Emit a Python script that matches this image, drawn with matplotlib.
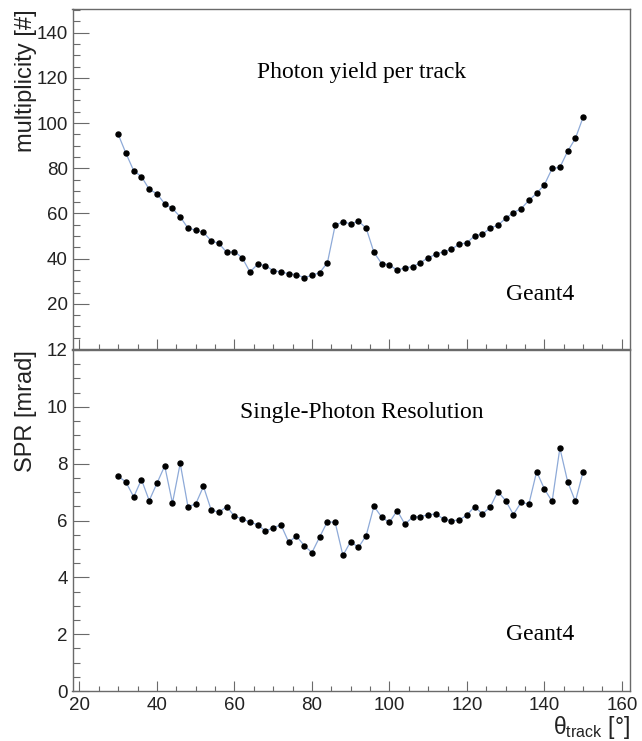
import numpy as np
import matplotlib
matplotlib.use('Agg')
import matplotlib.pyplot as plt
from matplotlib.ticker import MultipleLocator, FixedLocator, NullFormatter

plt.rcParams['font.family'] = ['Liberation Sans', 'DejaVu Sans']
plt.rcParams['mathtext.fontset'] = 'custom'
plt.rcParams['mathtext.rm'] = 'Liberation Sans'
plt.rcParams['mathtext.it'] = 'Liberation Sans'

# ---------------------------------------------------------------------------
# Data (theta_track in degrees, 30..150 step 2)
# ---------------------------------------------------------------------------
theta = np.arange(30, 151, 2)

multiplicity = [
    95.0, 86.6, 78.9, 76.3, 70.7, 68.7, 64.3, 62.2, 58.5, 53.5,
    52.6, 51.6, 47.9, 46.7, 42.8, 43.1, 40.4, 34.1, 37.5, 36.9,
    34.7, 34.1, 33.3, 32.9, 31.6, 32.6, 33.8, 38.2, 54.8, 56.3,
    55.4, 56.6, 53.5, 42.8, 37.8, 37.3, 34.8, 36.0, 36.4, 38.2,
    40.4, 41.9, 43.1, 44.1, 46.4, 47.0, 50.1, 50.8, 53.5, 54.8,
    57.8, 60.4, 62.1, 65.8, 68.9, 72.7, 79.9, 80.4, 87.5, 93.2,
    102.6,
]

spr = [
    7.56, 7.35, 6.83, 7.44, 6.70, 7.31, 7.92, 6.61, 8.01, 6.49,
    6.58, 7.20, 6.37, 6.29, 6.49, 6.15, 6.06, 5.94, 5.85, 5.63,
    5.74, 5.85, 5.24, 5.45, 5.12, 4.87, 5.42, 5.96, 5.93, 4.77,
    5.26, 5.05, 5.47, 6.50, 6.12, 5.93, 6.35, 5.87, 6.12, 6.14,
    6.20, 6.23, 6.05, 5.99, 6.02, 6.19, 6.49, 6.23, 6.47, 7.02,
    6.70, 6.21, 6.64, 6.58, 7.72, 7.11, 6.67, 8.55, 7.37, 6.67,
    7.72,
]

FRAME = '#6a6a6a'
LINE = '#8eaad8'
SERIF = ['Liberation Serif', 'DejaVu Serif']

fig = plt.figure(figsize=(6.42, 7.41), dpi=100)
W, H = 642.0, 741.0
ax_top = fig.add_axes([72.5 / W, (H - 349) / H, 557.5 / W, 340 / H])
ax_bot = fig.add_axes([72.5 / W, (H - 691) / H, 557.5 / W, 341 / H])


def style(ax):
    for s in ax.spines.values():
        s.set_color(FRAME)
        s.set_linewidth(1.0)
    ax.tick_params(which='both', direction='in', top=False, right=False,
                   color=FRAME, width=0.8, labelsize=13.5, labelcolor='#222222')
    ax.tick_params(axis='y', which='major', length=11.5, pad=3.5)
    ax.tick_params(axis='y', which='minor', length=5)
    ax.tick_params(axis='x', which='major', length=7.2, pad=4)
    ax.tick_params(axis='x', which='minor', length=3.6)
    ax.set_xlim(18.2, 162.1)
    ax.xaxis.set_major_locator(MultipleLocator(20))
    ax.xaxis.set_minor_locator(MultipleLocator(5))


# ---- top: photon yield ----------------------------------------------------
ax = ax_top
style(ax)
ax.plot(theta, multiplicity, '-', color=LINE, lw=0.9, zorder=2)
ax.plot(theta, multiplicity, 'o', color='black', ms=3.6, zorder=3)
ax.set_ylim(0, 150.5)
ax.yaxis.set_major_locator(FixedLocator(np.arange(20, 141, 20)))
ax.yaxis.set_minor_locator(MultipleLocator(5))
ax.xaxis.set_major_formatter(NullFormatter())
ax.set_ylabel('multiplicity [#]', fontsize=17, loc='top', color='#222222')
ax.yaxis.set_label_coords(-0.063, 1.0)
ax.text(0.518, 0.797, 'Photon yield per track', transform=ax.transAxes,
        ha='center', va='baseline', fontsize=17, family=SERIF)
ax.text(0.838, 0.144, 'Geant4', transform=ax.transAxes,
        ha='center', va='baseline', fontsize=17, family=SERIF)

# ---- bottom: single-photon resolution -------------------------------------
ax = ax_bot
style(ax)
ax.plot(theta, spr, '-', color=LINE, lw=0.9, zorder=2)
ax.plot(theta, spr, 'o', color='black', ms=3.6, zorder=3)
ax.set_ylim(0, 12)
ax.yaxis.set_major_locator(MultipleLocator(2))
ax.yaxis.set_minor_locator(MultipleLocator(0.5))
ax.set_ylabel('SPR [mrad]', fontsize=17, loc='top', color='#222222')
ax.yaxis.set_label_coords(-0.063, 1.0)
ax.set_xlabel(r'$\mathrm{\theta_{track}}$ [°]', fontsize=16.5, loc='right',
              color='#222222')
ax.xaxis.set_label_coords(1.0, -0.066)
ax.text(0.518, 0.80, 'Single-Photon Resolution', transform=ax.transAxes,
        ha='center', va='baseline', fontsize=17, family=SERIF)
ax.text(0.838, 0.15, 'Geant4', transform=ax.transAxes,
        ha='center', va='baseline', fontsize=17, family=SERIF)

fig.savefig('out.png', dpi=100, facecolor='white')
